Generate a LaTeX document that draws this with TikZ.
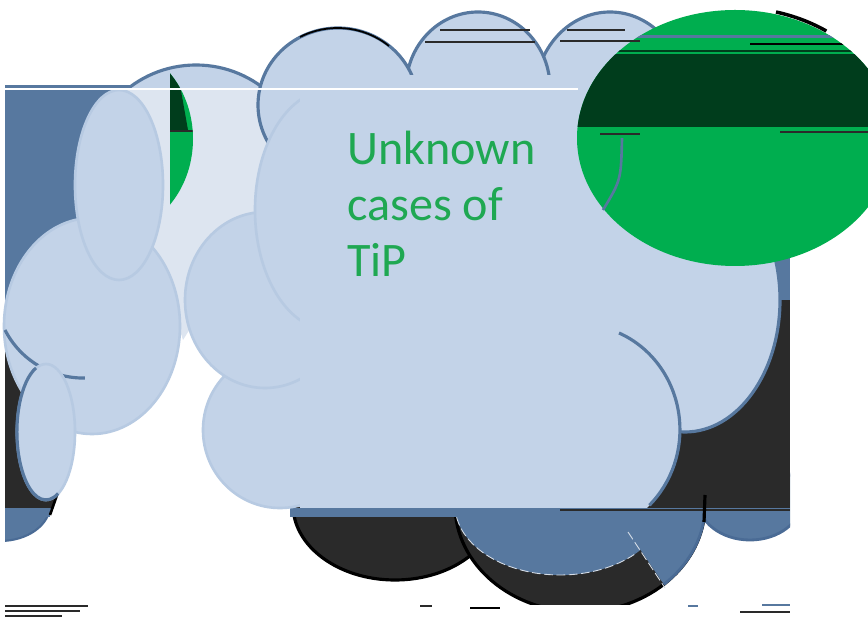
\documentclass[tikz,border=0pt]{standalone}
\usepackage{fontspec}
\setmainfont{Carlito}
\usepackage{tikz}
\usepackage{xcolor}
\definecolor{cloudfill}{HTML}{C3D3E8}
\definecolor{cloudpale}{HTML}{DDE5F0}
\definecolor{cloudedge}{HTML}{B7CAE2}
\definecolor{steel}{HTML}{57789F}
\definecolor{steeldark}{HTML}{4A6B95}
\definecolor{soot}{HTML}{2A2A2A}
\definecolor{leaf}{HTML}{00AE4F}
\definecolor{leafdark}{HTML}{003D1C}
\definecolor{tipgreen}{HTML}{1FA852}
\newcommand{\tipfont}{\fontsize{27.4}{32}\selectfont}

\begin{document}
\begin{tikzpicture}[x=0.02cm,y=0.02cm,yscale=-1]
\useasboundingbox (0,0) rectangle (868,617);
\fill[white] (0,0) rectangle (868,617);
% shadow behind the cloud
\begin{scope}
\clip (5,86) rectangle (790,604);
\fill[steel] (5,86) rectangle (140,335);
\filldraw[fill=steel, draw=steeldark, line width=1.2pt] (0,505) ellipse [x radius=50, y radius=36];
\fill[soot] (5,330) -- (75,330) -- (75,440) -- (57,495) -- (52,508) -- (5,508) -- cycle;
\fill[steel] (5,508) rectangle (50,517);
\draw[black, line width=1.5pt] (50,515) -- (57,495);
\fill[steel] (680,86) rectangle (790,305);
\filldraw[fill=steel, draw=steeldark, line width=1.6pt] (750,500) ellipse [x radius=52, y radius=40];
\filldraw[fill=soot, draw=black, line width=1.8pt] (395,505) ellipse [x radius=102, y radius=75];
\filldraw[fill=soot, draw=black, line width=1.8pt] (580,505) ellipse [x radius=125, y radius=107];
\begin{scope}
\clip (610,505) -- (790,505) -- (790,617) -- (686,617) -- cycle;
\filldraw[fill=steel, draw=steeldark, line width=1.6pt] (580,505) ellipse [x radius=125, y radius=107];
\end{scope}
\fill[steel] (560,505) ellipse [x radius=105, y radius=70];
\draw[white!75!steel, line width=0.5pt, dash pattern=on 5pt off 2pt] (455,505) arc[start angle=180, end angle=45, x radius=105, y radius=70];
\draw[white!75!steel, line width=0.5pt, dash pattern=on 5pt off 2pt] (628,532) -- (665,588);
\fill[soot] (600,300) rectangle (790,508);
\fill[steel] (290,508) rectangle (790,517);
\draw[soot, line width=1pt] (560,510) -- (790,510);
\draw[black, line width=1.8pt] (705,495) -- (704,522);
\end{scope}
% left cloud
\filldraw[fill=cloudfill, draw=steel, line width=1.8pt] (196,175) ellipse [x radius=110, y radius=110];
\begin{scope}
\clip (5,89) rectangle (790,515);
\fill[cloudpale] (196,175) ellipse [x radius=110, y radius=110];
\fill[cloudpale] (140,200) -- (270,200) -- (183,340) -- cycle;
\end{scope}
\begin{scope}
\clip (170,60) rectangle (200,220);
\fill[leaf] (110,139) ellipse [x radius=83, y radius=95];
\clip (110,139) ellipse [x radius=83, y radius=95];
\fill[leafdark] (170,60) -- (180,85) -- (188,130) -- (170,130) -- cycle;
\draw[soot, line width=0.6pt] (170,131) -- (195,131);
\end{scope}
\filldraw[fill=cloudfill, draw=cloudedge, line width=1.5pt] (92,326) ellipse [x radius=88, y radius=108];
\draw[steel, line width=1.8pt] (5,330) arc[start angle=153, end angle=89, radius=88];
\filldraw[fill=cloudfill, draw=cloudedge, line width=1.5pt] (119,185) ellipse [x radius=44, y radius=95];
\filldraw[fill=cloudfill, draw=cloudedge, line width=1.5pt] (46,432) ellipse [x radius=29, y radius=68];
\draw[steel, line width=1.8pt] (36,368) arc[start angle=250, end angle=65, x radius=29, y radius=68];
% main cloud
\filldraw[fill=cloudfill, draw=steel, line width=1.8pt] (720,100) ellipse [x radius=70, y radius=85];
\filldraw[fill=cloudfill, draw=steel, line width=1.8pt] (610,95) ellipse [x radius=75, y radius=83];
\filldraw[fill=cloudfill, draw=steel, line width=1.8pt] (478,88) ellipse [x radius=72, y radius=76];
\filldraw[fill=cloudfill, draw=steel, line width=1.8pt] (338,105) ellipse [x radius=80, y radius=77];
\draw[black, line width=1pt] (300,37) arc[start angle=-118, end angle=-50, x radius=80, y radius=77];
\filldraw[fill=cloudfill, draw=cloudedge, line width=1.5pt] (280,430) ellipse [x radius=77, y radius=78];
\filldraw[fill=cloudfill, draw=cloudedge, line width=1.5pt] (265,300) ellipse [x radius=80, y radius=88];
\filldraw[fill=cloudfill, draw=cloudedge, line width=1.5pt] (330,210) ellipse [x radius=75, y radius=120];
\filldraw[fill=cloudfill, draw=steel, line width=1.8pt] (685,300) ellipse [x radius=95, y radius=132];
\fill[cloudfill] (300,75) rectangle (640,508);
\begin{scope}
\clip (450,300) rectangle (700,508);
\fill[cloudfill] (580,430) ellipse [x radius=100, y radius=105];
\end{scope}
\draw[steel, line width=1.8pt] (619,333) arc[start angle=-67, end angle=46, x radius=100, y radius=105];
\node[anchor=base west, inner sep=0pt, text=tipgreen, font=\tipfont] (unknown) at (347,165) {Unknown};
\node[anchor=base west, inner sep=0pt, text=tipgreen, font=\tipfont] (casesof) at (347,221) {cases of};
\node[anchor=base west, inner sep=0pt, text=tipgreen, font=\tipfont] (tip) at (347,277) {TiP};
% green oval on top
\begin{scope}
\clip (735,138) ellipse [x radius=158, y radius=128];
\fill[leaf] (560,0) rectangle (868,280);
\fill[leafdark] (560,54) rectangle (868,127);
\fill[steel] (620,35) rectangle (868,38);
\draw[black, line width=0.8pt] (750,44) -- (868,44);
\draw[leafdark, line width=1pt] (560,51) -- (868,51);
\draw[soot, line width=0.6pt] (600,134) -- (640,134);
\draw[soot, line width=0.6pt] (780,132) -- (868,132);
\end{scope}
\draw[steel, line width=1.5pt] (622,138) .. controls (621,180) .. (603,210);
\draw[black, line width=2pt] (776,12) arc[start angle=-75, end angle=-55, x radius=160, y radius=130];
% stray lines
\draw[white, line width=0.8pt] (5,89) -- (578,89);
\draw[steel, line width=1pt] (5,86) -- (130,86);
\draw[soot, line width=0.8pt] (440,30) -- (530,30);
\draw[soot, line width=0.8pt] (425,42) -- (535,42);
\draw[soot, line width=0.8pt] (567,30) -- (625,30);
\draw[soot, line width=0.8pt] (560,41) -- (640,41);
\draw[soot, line width=0.6pt] (5,606) -- (88,606);
\draw[soot, line width=0.6pt] (5,611) -- (80,611);
\draw[soot, line width=0.6pt] (5,616) -- (62,616);
\draw[soot, line width=0.6pt] (420,606) -- (432,606);
\draw[black, line width=0.8pt] (470,608) -- (500,608);
\draw[steel, line width=0.8pt] (688,606) -- (698,606);
\draw[steel, line width=0.6pt] (762,605) -- (790,605);
\draw[soot, line width=0.6pt] (740,612) -- (790,612);
\end{tikzpicture}
\end{document}
